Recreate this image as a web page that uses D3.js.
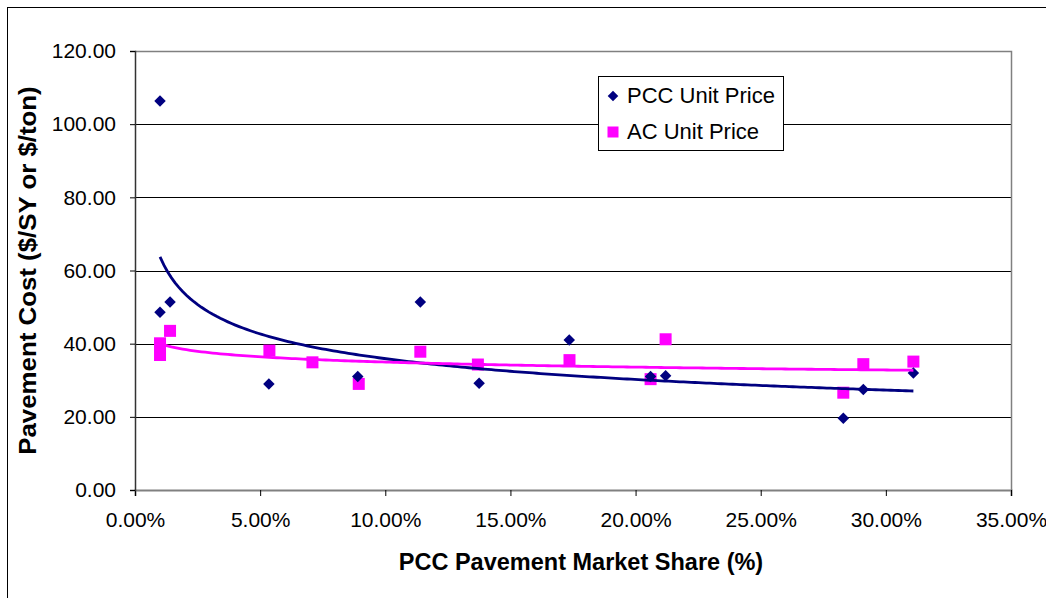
<!DOCTYPE html>
<html>
<head>
<meta charset="utf-8">
<script src="https://cdn.jsdelivr.net/npm/d3@7"></script>
<style>
  html, body { margin: 0; padding: 0; background: #fff; }
  svg { display: block; font-family: "Liberation Sans", Arial, sans-serif; }
</style>
</head>
<body>
<svg id="chart" width="1046" height="598"></svg>
<script>
// ---- Data (market share in %, cost) ----
const pccShare = [1.0, 1.0, 1.4, 5.35, 8.9, 11.4, 13.75, 17.35, 20.6, 21.2, 28.3, 29.1, 31.1];
const pccPrice = [106.3, 48.6, 51.4, 29.0, 31.0, 51.4, 29.2, 41.0, 31.0, 31.2, 19.6, 27.5, 32.0];
const acShare  = [1.0, 1.0, 1.4, 5.37, 7.09, 8.94, 11.4, 13.7, 17.36, 20.6, 21.2, 28.3, 29.1, 31.1];
const acPrice  = [40.1, 36.9, 43.5, 38.1, 34.9, 29.0, 37.8, 34.3, 35.5, 30.3, 41.2, 26.6, 34.4, 35.1];
const xTicks = [0, 5, 10, 15, 20, 25, 30, 35];
const yTicks = [0, 20, 40, 60, 80, 100, 120];
const seriesNames = ["PCC Unit Price", "AC Unit Price"];
const colors = ["#000080", "#FF00FF"];

const svg = d3.select("#chart");
const plot = { left: 135, right: 1011, top: 51, bottom: 490 };
const FONT = "'Liberation Sans', Arial, sans-serif";

// outer chart border
svg.append("rect").attr("x", 7.5).attr("y", 7.5).attr("width", 1045).attr("height", 600)
  .attr("fill", "#fff").attr("stroke", "#000").attr("stroke-width", 1);

const x = d3.scaleLinear().domain([0, 35]).range([plot.left, plot.right]);
const y = d3.scaleLinear().domain([0, 120]).range([plot.bottom, plot.top]);

// gridlines
svg.append("g").selectAll("line").data(yTicks.filter(t => t > 0 && t < 120)).join("line")
  .attr("x1", plot.left).attr("x2", plot.right)
  .attr("y1", d => Math.round(y(d)) + 0.5).attr("y2", d => Math.round(y(d)) + 0.5)
  .attr("stroke", "#000").attr("stroke-width", 1);

// plot area border (top/right) gray
svg.append("path")
  .attr("d", `M${plot.left},${plot.top + 0.5}H${plot.right + 0.5}V${plot.bottom}`)
  .attr("fill", "none").attr("stroke", "#808080").attr("stroke-width", 1.5);

// x axis
const xAxis = d3.axisBottom(x).tickValues(xTicks).tickSize(6).tickPadding(16)
  .tickFormat(d => d3.format(".2f")(d) + "%");
const gx = svg.append("g").attr("transform", `translate(0,${plot.bottom})`).call(xAxis);
gx.select(".domain").attr("stroke", "#808080").attr("stroke-width", 2);
gx.selectAll(".tick line").attr("stroke", "#000");
gx.selectAll(".tick text").attr("font-size", 21).attr("fill", "#000").attr("font-family", FONT);

// y axis
const yAxis = d3.axisLeft(y).tickValues(yTicks).tickSize(5).tickPadding(14)
  .tickFormat(d3.format(".2f"));
const gy = svg.append("g").attr("transform", `translate(${plot.left},0)`).call(yAxis);
gy.select(".domain").attr("stroke", "#333").attr("stroke-width", 1.5);
gy.selectAll(".tick line").attr("stroke", "#000");
gy.selectAll(".tick text").attr("font-size", 21).attr("fill", "#000").attr("font-family", FONT);

// axis titles
svg.append("text").attr("x", 581).attr("y", 570).attr("text-anchor", "middle")
  .attr("font-size", 23.5).attr("font-weight", "bold").text("PCC Pavement Market Share (%)");
svg.append("text").attr("transform", `translate(36,${(plot.top + plot.bottom) / 2}) rotate(-90) scale(1.1,1)`)
  .attr("text-anchor", "middle").attr("font-size", 23.5).attr("font-weight", "bold")
  .text("Pavement Cost ($/SY or $/ton)");

// power trendline fit (least squares in log-log space, like Excel)
function powerFit(xs, ys) {
  const lx = xs.map(Math.log), ly = ys.map(Math.log);
  const mx = d3.mean(lx), my = d3.mean(ly);
  let sxy = 0, sxx = 0;
  lx.forEach((v, i) => { sxy += (v - mx) * (ly[i] - my); sxx += (v - mx) * (v - mx); });
  const k = sxy / sxx, c = Math.exp(my - k * mx);
  const [lo, hi] = d3.extent(xs);
  const n = 200;
  return d3.range(n + 1).map(i => {
    const xv = lo + (hi - lo) * i / n;
    return [xv, c * Math.pow(xv, k)];
  });
}
const line = d3.line().x(d => x(d[0])).y(d => y(d[1]));

const pccData = pccShare.map((s, i) => [s, pccPrice[i]]);
const acData = acShare.map((s, i) => [s, acPrice[i]]);

// AC markers
svg.append("g").selectAll("rect").data(acData).join("rect")
  .attr("x", d => x(d[0]) - 6).attr("y", d => y(d[1]) - 6)
  .attr("width", 12).attr("height", 12).attr("fill", colors[1]);

// PCC markers (diamonds)
svg.append("g").selectAll("path").data(pccData).join("path")
  .attr("transform", d => `translate(${x(d[0])},${y(d[1])}) rotate(45)`)
  .attr("d", d3.symbol().type(d3.symbolSquare).size(66)).attr("fill", colors[0]);

// trendlines
svg.append("path").datum(powerFit(pccShare, pccPrice)).attr("d", line)
  .attr("fill", "none").attr("stroke", colors[0]).attr("stroke-width", 2.8);
svg.append("path").datum(powerFit(acShare, acPrice)).attr("d", line)
  .attr("fill", "none").attr("stroke", colors[1]).attr("stroke-width", 2.8);

// legend
const lg = svg.append("g");
lg.append("rect").attr("x", 598.5).attr("y", 76.5).attr("width", 185).attr("height", 74)
  .attr("fill", "#fff").attr("stroke", "#000").attr("stroke-width", 1);
lg.append("path").attr("transform", "translate(613,96) rotate(45)")
  .attr("d", d3.symbol().type(d3.symbolSquare).size(56)).attr("fill", colors[0]);
lg.append("rect").attr("x", 607.5).attr("y", 126.5).attr("width", 11).attr("height", 11).attr("fill", colors[1]);
lg.append("text").attr("x", 627).attr("y", 103).attr("font-size", 22).text(seriesNames[0]);
lg.append("text").attr("x", 627).attr("y", 139).attr("font-size", 22).text(seriesNames[1]);
</script>
</body>
</html>
